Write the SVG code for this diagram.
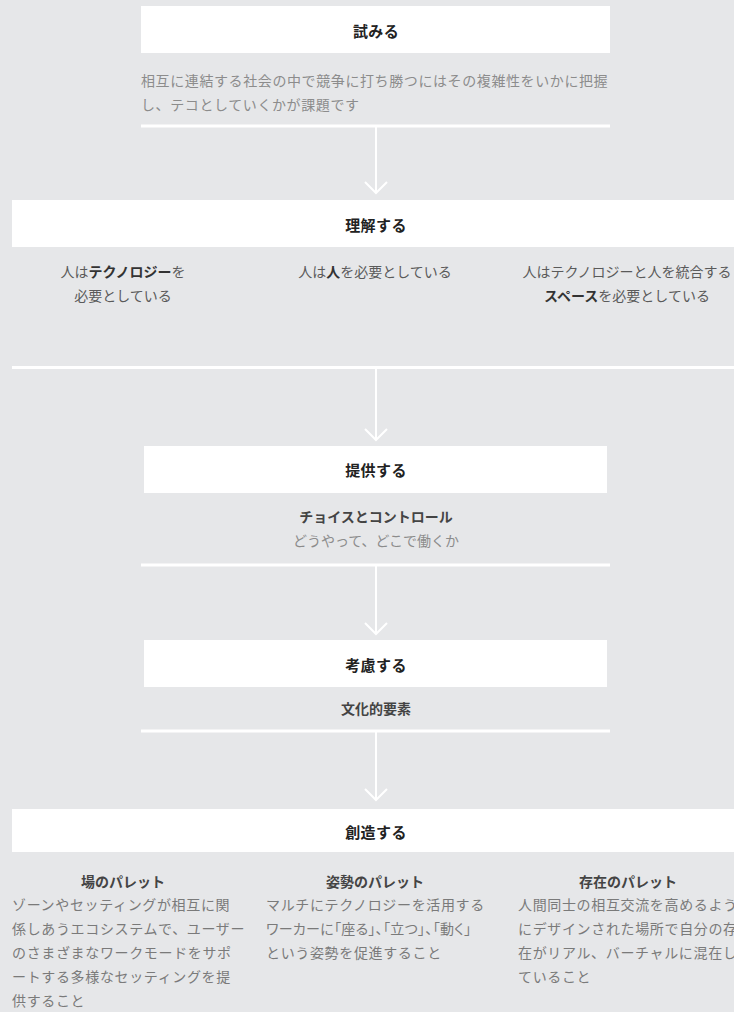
<svg xmlns="http://www.w3.org/2000/svg" width="734" height="1012" viewBox="0 0 734 1012">
<style>
text{font-family:"Noto Sans CJK JP","Noto Sans",sans-serif;dominant-baseline:central}
.box{fill:#ffffff}
.rule{fill:#ffffff}
.title{font-size:15px;font-weight:700;fill:#222222;text-anchor:middle;letter-spacing:0.4px}
.lead{font-size:14px;fill:#8c8c8c;letter-spacing:0.6px}
.col{font-size:14px;fill:#5a5a5a;text-anchor:middle}
.b{font-weight:700;fill:#333333}
.sub{font-size:14px;font-weight:700;fill:#444444;text-anchor:middle}
.note{font-size:14px;fill:#8c8c8c;text-anchor:middle}
.body{font-size:14px;fill:#7a7a7a;letter-spacing:0.65px}
.palt{font-feature-settings:"palt";letter-spacing:0.3px}
.conn{stroke:#ffffff;stroke-width:2;fill:none}
</style>
<rect x="0" y="0" width="734" height="1012" fill="#e6e7e9"/>

<g id="node-try">
<rect class="box" x="141" y="6" width="469" height="47"/>
<text class="title" x="376" y="30">試みる</text>
<text class="lead" x="141" y="80">相互に連結する社会の中で競争に打ち勝つにはその複雑性をいかに把握</text>
<text class="lead" x="141" y="104">し、テコとしていくかが課題です</text>
<rect class="rule" x="141" y="124.5" width="469" height="3"/>
</g>

<g id="node-understand">
<rect class="box" x="12" y="200" width="722" height="47"/>
<text class="title" x="376" y="224">理解する</text>
<text class="col" x="123" y="271">人は<tspan class="b">テクノロジー</tspan>を</text>
<text class="col" x="123" y="295">必要としている</text>
<text class="col" x="375" y="271">人は<tspan class="b">人</tspan>を必要としている</text>
<text class="col" x="627" y="271">人はテクノロジーと人を統合する</text>
<text class="col" x="627" y="295"><tspan class="b">スペース</tspan>を必要としている</text>
<rect class="rule" x="12" y="366" width="722" height="3"/>
</g>

<g id="node-provide">
<rect class="box" x="144" y="446" width="463" height="47"/>
<text class="title" x="376" y="469">提供する</text>
<text class="sub" x="376" y="516">チョイスとコントロール</text>
<text class="note" x="376" y="540">どうやって、どこで働くか</text>
<rect class="rule" x="141" y="563.5" width="469" height="3"/>
</g>

<g id="node-consider">
<rect class="box" x="144" y="640" width="463" height="47"/>
<text class="title" x="376" y="664">考慮する</text>
<text class="sub" x="376" y="708">文化的要素</text>
<rect class="rule" x="141" y="729.5" width="469" height="3"/>
</g>

<g id="node-create">
<rect class="box" x="12" y="809" width="722" height="43"/>
<text class="title" x="376" y="831">創造する</text>
<text class="sub" x="123" y="881">場のパレット</text>
<text class="body" x="12" y="904">ゾーンやセッティングが相互に関</text>
<text class="body" x="12" y="928">係しあうエコシステムで、ユーザー</text>
<text class="body" x="12" y="952">のさまざまなワークモードをサポ</text>
<text class="body" x="12" y="976">ートする多様なセッティングを提</text>
<text class="body" x="12" y="1000">供すること</text>
<text class="sub" x="375" y="881">姿勢のパレット</text>
<text class="body" x="266" y="904">マルチにテクノロジーを活用する</text>
<text class="body palt" x="266" y="928">ワーカーに「座る」、「立つ」、「動く」</text>
<text class="body" x="266" y="952">という姿勢を促進すること</text>
<text class="sub" x="628" y="881">存在のパレット</text>
<text class="body" x="518" y="904">人間同士の相互交流を高めるよう</text>
<text class="body" x="518" y="928">にデザインされた場所で自分の存</text>
<text class="body" x="518" y="952">在がリアル、バーチャルに混在し</text>
<text class="body" x="518" y="976">ていること</text>
</g>

<g id="connectors">
<line class="conn" x1="376" y1="127" x2="376" y2="193"/>
<polyline class="conn" points="365,182 376,193 387,182"/>
<line class="conn" x1="376" y1="369" x2="376" y2="440"/>
<polyline class="conn" points="365,429 376,440 387,429"/>
<line class="conn" x1="376" y1="566" x2="376" y2="634"/>
<polyline class="conn" points="365,623 376,634 387,623"/>
<line class="conn" x1="376" y1="732" x2="376" y2="800"/>
<polyline class="conn" points="365,789 376,800 387,789"/>
</g>
</svg>
